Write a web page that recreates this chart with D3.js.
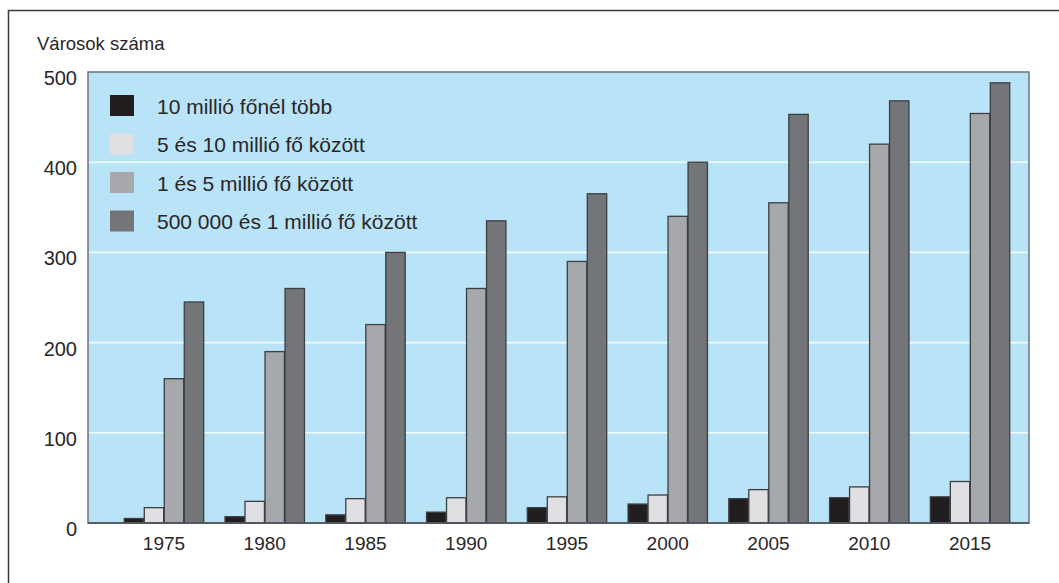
<!DOCTYPE html>
<html>
<head>
<meta charset="utf-8">
<script src="https://cdn.jsdelivr.net/npm/d3@7"></script>
<style>
  html, body { margin: 0; padding: 0; background: #fff; }
  svg { display: block; }
  text { font-family: "Liberation Sans", Arial, Helvetica, sans-serif; fill: #2a2627; }
</style>
</head>
<body>
<svg id="chart" width="1059" height="583"></svg>
<script>
// ---- data ----
const years = ["1975", "1980", "1985", "1990", "1995", "2000", "2005", "2010", "2015"];
const seriesNames = [
  "10 millió főnél több",
  "5 és 10 millió fő között",
  "1 és 5 millió fő között",
  "500 000 és 1 millió fő között"
];
const over10m   = [5, 7, 9, 12, 17, 21, 27, 28, 29];
const from5to10 = [17, 24, 27, 28, 29, 31, 37, 40, 46];
const from1to5  = [160, 190, 220, 260, 290, 340, 355, 420, 454];
const from05to1 = [245, 260, 300, 335, 365, 400, 453, 468, 488];
const yTicks = [0, 100, 200, 300, 400, 500];
const yTitle = "Városok száma";

const seriesValues = [over10m, from5to10, from1to5, from05to1];
const colors = ["#221e1f", "#e0e0e3", "#a7a8ab", "#747578"];

// ---- layout ----
const svg = d3.select("#chart");
const plot = { left: 88, right: 1029, top: 72, bottom: 523 };

// outer frame (top and left edges visible)
svg.append("path")
  .attr("d", `M8.5,583 V10.5 H1059`)
  .attr("fill", "none").attr("stroke", "#3a3a3a").attr("stroke-width", 1.5);

// scales
const y = d3.scaleLinear().domain([0, 500]).range([plot.bottom, plot.top]);
const x0 = d3.scaleBand().domain(years).range([113.6, 1020.4]).paddingInner(0.2).paddingOuter(0.1);
const x1 = d3.scaleBand().domain(d3.range(seriesNames.length)).range([0, x0.bandwidth()]).padding(0.03);

// background
svg.append("rect")
  .attr("x", plot.left).attr("y", plot.top)
  .attr("width", plot.right - plot.left).attr("height", plot.bottom - plot.top)
  .attr("fill", "#b9e3f7");

// gridlines
svg.append("g").selectAll("line")
  .data(yTicks.filter(t => t > 0 && t < 500))
  .join("line")
  .attr("x1", plot.left).attr("x2", plot.right)
  .attr("y1", d => y(d)).attr("y2", d => y(d))
  .attr("stroke", "#f2fbff").attr("stroke-width", 1.6);

// bars
const groups = svg.append("g").selectAll("g")
  .data(years)
  .join("g")
  .attr("transform", d => `translate(${x0(d)},0)`);

groups.selectAll("rect")
  .data((d, i) => seriesValues.map((vals, s) => ({ s, v: vals[i] })))
  .join("rect")
  .attr("x", d => x1(d.s))
  .attr("y", d => y(d.v))
  .attr("width", x1.bandwidth())
  .attr("height", d => y(0) - y(d.v))
  .attr("fill", d => colors[d.s])
  .attr("stroke", "#3b3e43")
  .attr("stroke-width", 1.3);

// plot border
svg.append("rect")
  .attr("x", plot.left).attr("y", plot.top)
  .attr("width", plot.right - plot.left).attr("height", plot.bottom - plot.top)
  .attr("fill", "none").attr("stroke", "#6b7178").attr("stroke-width", 1.5);
svg.append("line")
  .attr("x1", plot.left).attr("x2", plot.right)
  .attr("y1", y(0)).attr("y2", y(0))
  .attr("stroke", "#4a4f55").attr("stroke-width", 1.6);

// y axis labels
const yAxis = d3.axisLeft(y).tickValues(yTicks).tickSize(0).tickPadding(11);
const yg = svg.append("g").attr("transform", `translate(${plot.left},0)`).call(yAxis);
yg.select(".domain").remove();
yg.selectAll("text")
  .attr("font-size", 20)
  .attr("dy", "0.62em")
  .attr("fill", "#2a2627")
  .style("font-family", "'Liberation Sans', Arial, sans-serif");

// x axis labels
const xAxis = d3.axisBottom(x0).tickSize(0).tickPadding(14);
const xg = svg.append("g").attr("transform", `translate(0,${plot.bottom})`).call(xAxis);
xg.select(".domain").remove();
xg.selectAll("text")
  .attr("font-size", 19)
  .attr("fill", "#2a2627")
  .style("font-family", "'Liberation Sans', Arial, sans-serif");

// y title
svg.append("text")
  .attr("x", 37).attr("y", 50)
  .attr("font-size", 18.5)
  .text(yTitle);

// legend
const legend = svg.append("g");
const legRows = legend.selectAll("g")
  .data(seriesNames)
  .join("g")
  .attr("transform", (d, i) => `translate(110,${95 + i * 38.5})`);
legRows.append("rect")
  .attr("width", 24).attr("height", 21)
  .attr("fill", (d, i) => colors[i]);
legRows.append("text")
  .attr("x", 47).attr("y", 18.5)
  .attr("font-size", 21)
  .text(d => d);
</script>
</body>
</html>
